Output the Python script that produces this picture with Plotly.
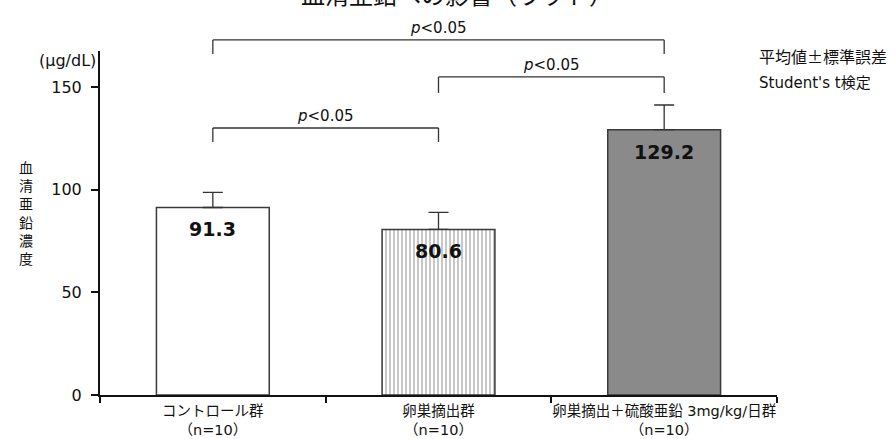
import plotly.graph_objects as go

categories = ["コントロール群", "卵巣摘出群", "卵巣摘出＋硫酸亜鉛 3mg/kg/日群"]
tick_labels = ["コントロール群<br>（n=10）", "卵巣摘出群<br>（n=10）", "卵巣摘出＋硫酸亜鉛 3mg/kg/日群<br>（n=10）"]
means = [91.3, 80.6, 129.2]
sems = [7.4, 8.3, 12.0]
value_labels = ["91.3", "80.6", "129.2"]
y_ticks = [0, 50, 100, 150]
# comparisons: (i, j, bracket level, end-drop level)
comparisons = [(0, 1, 130.0, 123.2), (1, 2, 154.9, 147.1), (0, 2, 172.9, 166.1)]

YMAX = 167.5
JP = "Noto Sans CJK JP"
LAT = "DejaVu Sans"
MIX = "DejaVu Sans, Noto Sans CJK JP"


def yp(v):
    return v / YMAX


fig = go.Figure()
fig.add_trace(go.Bar(
    x=categories, y=means, width=0.5,
    marker=dict(
        color=["white", "white", "#8a8a8a"],
        line=dict(color="#3a3a3a", width=1.5),
        pattern=dict(shape=["", "|", ""], fgcolor="#b5b5b5", bgcolor="white",
                     size=4, solidity=0.3, fillmode="overlay"),
    ),
    error_y=dict(type="data", array=sems, arrayminus=[0, 0, 0], symmetric=False,
                 color="#333333", thickness=1.3, width=10),
    showlegend=False,
))

annotations = []
for c, v, t in zip(categories, means, value_labels):
    annotations.append(dict(x=c, y=v, xref="x", yref="y", text=f"<b>{t}</b>",
                            showarrow=False, yanchor="top", yshift=-9,
                            font=dict(family=LAT, size=19, color="#111111")))

shapes = []
for i, j, lev, drop in comparisons:
    for (xa, ya, xb, yb) in [(i, drop, i, lev), (i, lev, j, lev), (j, lev, j, drop)]:
        shapes.append(dict(type="line", xref="x", yref="paper",
                           x0=xa, x1=xb, y0=yp(ya), y1=yp(yb),
                           line=dict(color="#333333", width=1.3)))
    annotations.append(dict(x=(i + j) / 2, y=yp(lev), xref="x", yref="paper",
                            text="<i>p</i><0.05", showarrow=False, yanchor="bottom",
                            yshift=1,
                            font=dict(family=LAT, size=15, color="#111111")))

# unit label
annotations.append(dict(x=0, y=1.0, xref="paper", yref="paper", text="(μg/dL)",
                        showarrow=False, xanchor="right", yanchor="middle",
                        xshift=-2, yshift=-9,
                        font=dict(family=LAT, size=16, color="#111111")))
# y axis title (vertical stacked)
annotations.append(dict(x=-74 / 677, y=(395 - 213) / 344, xref="paper", yref="paper",
                        text="<br>".join(list("血清亜鉛濃度")),
                        showarrow=False, xanchor="center", yanchor="middle",
                        font=dict(family=JP, size=14, color="#111111")))
# notes
annotations.append(dict(x=(757 - 100) / 677, y=(395 - 56) / 344, xref="paper", yref="paper",
                        text="平均値±標準誤差", showarrow=False, xanchor="left",
                        yanchor="middle", font=dict(family=JP, size=16, color="#111111")))
annotations.append(dict(x=(757 - 100) / 677, y=(395 - 83) / 344, xref="paper", yref="paper",
                        text="Student's t検定", showarrow=False, xanchor="left",
                        yanchor="middle", font=dict(family=MIX, size=15, color="#111111")))
# clipped title
annotations.append(dict(x=(457 - 100) / 677, y=(395 - 13) / 344, xref="paper", yref="paper",
                        text="血清亜鉛への影響（ラット）", showarrow=False, xanchor="center",
                        yanchor="bottom", font=dict(family=JP, size=24, color="#111111")))

fig.update_layout(
    width=895, height=439,
    margin=dict(l=100, r=118, t=51, b=44),
    paper_bgcolor="white", plot_bgcolor="white",
    bargap=0.5,
    shapes=shapes,
    annotations=annotations,
    xaxis=dict(
        type="category", range=[-0.5, 2.5], tickmode="array",
        tickvals=categories, ticktext=tick_labels, tickson="boundaries",
        ticks="outside", ticklen=6, tickcolor="#111111", tickwidth=1.5,
        showline=True, linecolor="#111111", linewidth=1.5, showgrid=False,
        ticklabelstandoff=2, tickangle=0, automargin=False,
        tickfont=dict(family=MIX, size=14.5, color="#111111"),
    ),
    yaxis=dict(
        range=[0, YMAX], tickvals=y_ticks, ticks="outside", ticklen=7,
        tickcolor="#111111", tickwidth=1.5, showline=True, linecolor="#111111",
        linewidth=2, showgrid=False, zeroline=False, ticklabelstandoff=6,
        automargin=False,
        tickfont=dict(family=LAT, size=16, color="#111111"),
    ),
)

fig.write_html("out.html")
